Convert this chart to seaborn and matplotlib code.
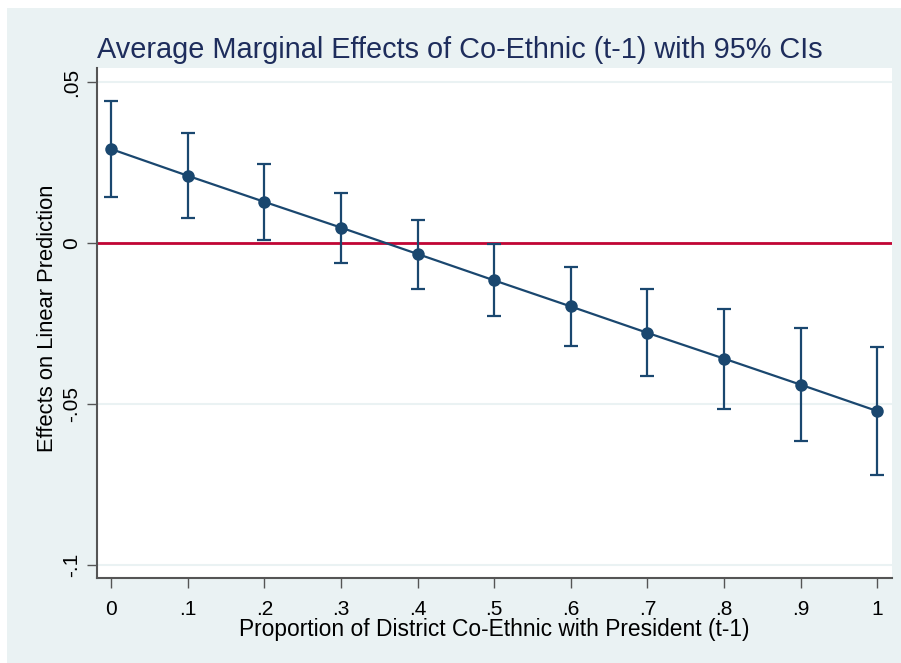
import matplotlib
matplotlib.use("Agg")
import matplotlib.pyplot as plt
from matplotlib.patches import Rectangle
import pandas as pd
import seaborn as sns

# marginal effects
proportion = [0.0, 0.1, 0.2, 0.3, 0.4, 0.5, 0.6, 0.7, 0.8, 0.9, 1.0]
effect = [0.0292, 0.0209, 0.0128, 0.0048, -0.0034, -0.0116, -0.0197, -0.0279, -0.0359, -0.0440, -0.0522]
ci_lower = [0.0143, 0.0077, 0.0009, -0.0062, -0.0142, -0.0227, -0.0319, -0.0414, -0.0514, -0.0615, -0.0719]
ci_upper = [0.0441, 0.0342, 0.0245, 0.0155, 0.0071, -0.0004, -0.0075, -0.0142, -0.0205, -0.0265, -0.0324]

x_ticks = [0.0, 0.1, 0.2, 0.3, 0.4, 0.5, 0.6, 0.7, 0.8, 0.9, 1.0]
x_tick_labels = ["0", ".1", ".2", ".3", ".4", ".5", ".6", ".7", ".8", ".9", "1"]
y_ticks = [0.05, 0.0, -0.05, -0.1]
y_tick_labels = [".05", "0", "-.05", "-.1"]

title = "Average Marginal Effects of Co-Ethnic (t-1) with 95% CIs"
x_label = "Proportion of District Co-Ethnic with President (t-1)"
y_label = "Effects on Linear Prediction"

NAVY = "#1A476F"
RED = "#C10534"
BG = "#EAF2F3"

sns.set_theme(style="white")
plt.rcParams["font.family"] = ["Liberation Sans", "DejaVu Sans"]

df = pd.DataFrame({"x": proportion, "y": effect, "lo": ci_lower, "hi": ci_upper})

fig = plt.figure(figsize=(9.01, 6.63), dpi=100, facecolor="white")
fig.patches.append(Rectangle((7 / 901, 0), 1, 1 - 8 / 663, transform=fig.transFigure,
                             facecolor=BG, edgecolor="none", zorder=-10))
ax = fig.add_axes([0.1073, 0.1282, 0.990 - 0.1073, 0.8974 - 0.1282])
ax.set_facecolor("white")

for yt in y_ticks:
    ax.axhline(yt, color=BG, lw=1.5, zorder=0)
ax.axhline(0, color=RED, lw=2, zorder=1)

ax.errorbar(df["x"], df["y"], yerr=[df["y"] - df["lo"], df["hi"] - df["y"]],
            fmt="none", ecolor=NAVY, elinewidth=1.6, capsize=5, capthick=1.6, zorder=2)
sns.lineplot(data=df, x="x", y="y", ax=ax, color=NAVY, lw=1.6, marker="o",
             markersize=9, markeredgewidth=0, zorder=3)

ax.set_xlim(-0.0187, 1.0192)
ax.set_ylim(-0.10404, 0.05435)
ax.set_xticks(x_ticks)
ax.set_xticklabels(x_tick_labels)
ax.set_yticks(y_ticks)
ax.set_yticklabels(y_tick_labels, rotation=90, va="center")
ax.tick_params(axis="both", direction="out", length=7, width=1, color="#555555",
               labelsize=15, labelcolor="black", bottom=True, left=True)
ax.tick_params(axis="x", pad=9)
ax.tick_params(axis="y", pad=4)

for side in ["top", "right"]:
    ax.spines[side].set_visible(False)
for side in ["left", "bottom"]:
    ax.spines[side].set_color("#555555")
    ax.spines[side].set_linewidth(1.5)

ax.set_xlabel(x_label, fontsize=16.4, color="black", labelpad=-1)
ax.set_ylabel(y_label, fontsize=15.8, color="black", va="center")
ax.yaxis.set_label_coords((48 - 96.7) / 795.3, (578 - 318) / 510)
fig.text(97 / 901, 1 - 58 / 663, title, fontsize=20.8, color="#1E2D5C",
         ha="left", va="baseline")

fig.savefig("out.png", dpi=100, facecolor=fig.get_facecolor())
